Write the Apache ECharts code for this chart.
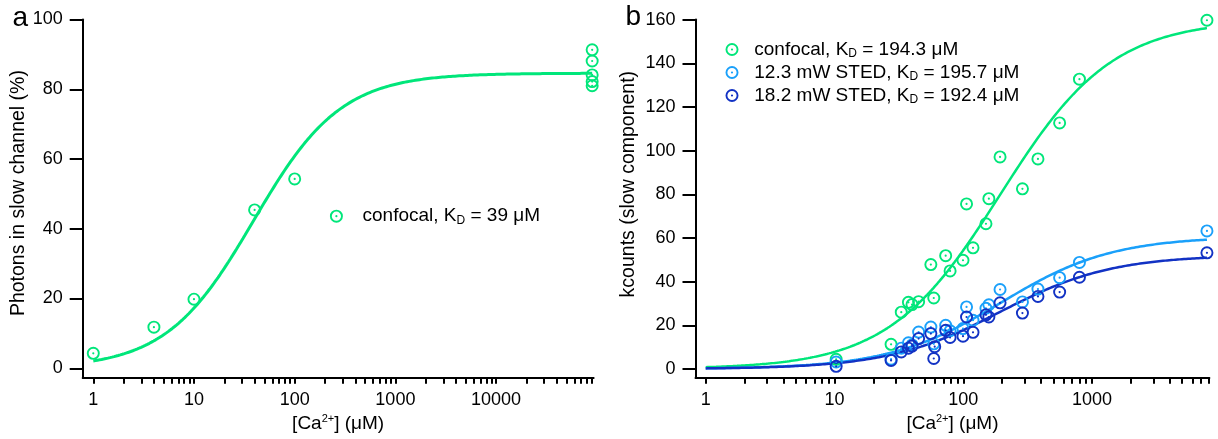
<!DOCTYPE html>
<html>
<head>
<meta charset="utf-8">
<script src="https://cdn.jsdelivr.net/npm/echarts@6/dist/echarts.min.js"></script>
<style>
  html, body { margin: 0; padding: 0; background: #fff; }
  #chart { width: 1218px; height: 439px; }
</style>
</head>
<body>
<div id="chart"></div>
<script>
// ---- panel a: fraction of photons in the slow channel ----
const CONC_A = [1, 4, 10, 40, 100, 90000, 90000, 90000, 90000, 90000];
const SLOW_A = [4.3, 11.8, 19.8, 45.4, 54.3, 91.3, 88.1, 84.1, 82.2, 81.0];
const KD_A = 39;
const BMAX_A = 84.6;

// ---- panel b: slow-component counts ----
const CONC_B = [10.3, 27.5, 33, 37.5, 40, 45, 56, 59, 73, 79, 99.5, 106, 119, 150, 158, 193, 288, 380, 560, 798, 7800];
const CONFOCAL_B = [4.4, 11.3, 26, 30.5, 29.5, 30.8, 47.8, 32.5, 51.9, 44.9, 49.8, 75.6, 55.5, 66.5, 78, 97.1, 82.5, 96.2, 112.7, 132.7, 159.7];
const STED12_B = [3.2, 4.5, 9.5, 12, 11, 16.9, 19.2, 11.5, 20, 17.5, 18.5, 28.4, 22.3, 27.8, 29.4, 36.4, 30.7, 36.6, 41.8, 48.8, 63.2];
const CONC_B18 = [10.3, 27.5, 33, 37.5, 40, 45, 56, 59, 60, 73, 79, 99.5, 106, 119, 150, 158, 193, 288, 380, 560, 798, 7800];
const STED18_B = [1.2, 3.9, 7.8, 9.5, 10.5, 13.9, 16.2, 4.8, 10.2, 17.7, 14.4, 15, 23.8, 16.8, 24.8, 23.8, 30.3, 25.6, 33.2, 35.2, 42, 53.2];
const KD_B = [194.3, 195.7, 192.4];
const BMAX_B = [160, 60.7, 52.2];

// ---- axis ticks ----
const DECADES_A = [1, 10, 100, 1000, 10000];
const DECADES_B = [1, 10, 100, 1000];
const Y_TICKS_A = [0, 20, 40, 60, 80, 100];
const Y_TICKS_B = [0, 20, 40, 60, 80, 100, 120, 140, 160];

// ---- legend texts ----
const LEGEND_A = [['confocal', 'confocal, K', ' = 39 μM']];
const LEGEND_B = [
  ['confocal ', 'confocal, K', ' = 194.3 μM'],
  ['12.3 mW STED', '12.3 mW STED, K', ' = 195.7 μM'],
  ['18.2 mW STED', '18.2 mW STED, K', ' = 192.4 μM']
];

const GREEN = '#00e67a';
const LIGHT = '#1aa0fa';
const DARK = '#1232c4';
const FONT = '"Liberation Sans", Arial, sans-serif';

// open ring with a centre dot
const RING = 'path://M0,-6.5A6.5,6.5,0,1,1,0,6.5A6.5,6.5,0,1,1,0,-6.5Z' +
             'M0,-4.6A4.6,4.6,0,1,0,0,4.6A4.6,4.6,0,1,0,0,-4.6Z' +
             'M0,-1.1A1.1,1.1,0,1,1,0,1.1A1.1,1.1,0,1,1,0,-1.1Z';

function zip(xs, ys) { return xs.map((x, i) => [x, ys[i]]); }

// one-site binding fit  y = Bmax * x / (KD + x), sampled on a log grid
function bindingCurve(kd, bmax, xFrom, xTo, n) {
  const a = Math.log10(xFrom), b = Math.log10(xTo), pts = [];
  for (let i = 0; i <= n; i++) {
    const x = Math.pow(10, a + (b - a) * i / n);
    pts.push([x, bmax * x / (kd + x)]);
  }
  return pts;
}

// decade marks plus 2..9 minor marks inside each decade up to the limit
function logTicks(decades, limit) {
  const t = [];
  decades.forEach(d => { for (let k = 1; k <= 9; k++) { if (k * d <= limit) t.push(k * d); } });
  return t;
}

const axisLineStyle = { color: '#000', width: 2 };
const tickLineStyle = { color: '#000', width: 2 };
const labelBase = { color: '#000', fontSize: 18, fontFamily: FONT };

function xAxisLog(gridIndex, min, max, decades) {
  return {
    type: 'log', logBase: 10, gridIndex, min, max,
    axisLine: { show: true, onZero: false, lineStyle: axisLineStyle },
    axisTick: { show: true, customValues: logTicks(decades, max), length: 6, lineStyle: tickLineStyle },
    axisLabel: Object.assign({ customValues: decades, margin: 13, formatter: v => String(Math.round(v)) }, labelBase),
    splitLine: { show: false },
    minorTick: { show: false },
    name: '{n|[Ca}{s|2+}{n|] (μM)}',
    nameLocation: 'middle', nameGap: 33,
    nameTextStyle: {
      rich: {
        n: { fontSize: 19, fontFamily: FONT, color: '#000', lineHeight: 21 },
        s: { fontSize: 11, fontFamily: FONT, color: '#000', lineHeight: 11, verticalAlign: 'top' }
      }
    }
  };
}

function yAxisLin(gridIndex, min, max, ticks, name, gap, shift) {
  return {
    type: 'value', gridIndex, min, max,
    axisLine: { show: true, onZero: false, lineStyle: axisLineStyle },
    axisTick: { show: true, customValues: ticks, length: 13, lineStyle: tickLineStyle },
    axisLabel: Object.assign({ customValues: ticks, margin: 20 }, labelBase),
    splitLine: { show: false },
    name, nameLocation: 'middle', nameGap: gap,
    nameTextStyle: { color: '#000', fontSize: 19.5, fontFamily: FONT, padding: [0, 0, 0, shift] }
  };
}

function legendRich(pad) {
  return {
    t: { fontSize: 19, fontFamily: FONT, color: '#000', lineHeight: 20, padding: [0, 0, 0, pad] },
    k: { fontSize: 19, fontFamily: FONT, color: '#000', lineHeight: 20 },
    d: { fontSize: 12, fontFamily: FONT, color: '#000', lineHeight: 11, verticalAlign: 'bottom' }
  };
}

function legendFormatter(table) {
  return name => {
    const row = table.find(r => r[0] === name);
    return '{t|' + row[1] + '}{d|D}{k|' + row[2] + '}';
  };
}

function fitLine(name, xi, yi, data, color, width) {
  return {
    name, type: 'line', xAxisIndex: xi, yAxisIndex: yi, data,
    showSymbol: false, symbol: 'none', smooth: false, silent: true,
    lineStyle: { color, width }, z: 2
  };
}

function points(name, xi, yi, data, color) {
  return {
    name, type: 'scatter', xAxisIndex: xi, yAxisIndex: yi, data,
    symbol: RING, symbolSize: 13, symbolKeepAspect: true,
    itemStyle: { color, opacity: 1 }, z: 3
  };
}

const chart = echarts.init(document.getElementById('chart'), null, { renderer: 'canvas' });

chart.setOption({
  animation: false,
  backgroundColor: '#fff',
  grid: [
    { left: 82.7, top: 19.5, width: 510.9, height: 358.2 },
    { left: 695.5, top: 19.6, width: 513.9, height: 358.1 }
  ],
  xAxis: [
    xAxisLog(0, 0.785, 93000, DECADES_A),
    xAxisLog(1, 0.833, 8150, DECADES_B)
  ],
  yAxis: [
    yAxisLin(0, -2.7, 100, Y_TICKS_A, 'Photons in slow channel (%)', 53, 11),
    yAxisLin(1, -4, 160, Y_TICKS_B, 'kcounts (slow component)', 57, 29)
  ],
  legend: [
    {
      data: LEGEND_A.map(r => r[0]), orient: 'vertical', left: 329.9, top: 206.7, padding: 0,
      itemWidth: 13, itemHeight: 13, itemGap: 3.5, selectedMode: false,
      formatter: legendFormatter(LEGEND_A), textStyle: { rich: legendRich(14.6) }
    },
    {
      data: LEGEND_B.map(r => r[0]), orient: 'vertical', left: 725.5, top: 40, padding: 0,
      itemWidth: 13, itemHeight: 13, itemGap: 3.5, selectedMode: false,
      formatter: legendFormatter(LEGEND_B), textStyle: { rich: legendRich(10.8) }
    }
  ],
  graphic: [
    { type: 'text', left: 12.5, top: 4, style: { text: 'a', font: '28px ' + FONT, fill: '#000' } },
    { type: 'text', left: 625.5, top: 3, style: { text: 'b', font: '28px ' + FONT, fill: '#000' } }
  ],
  series: [
    fitLine('fit a', 0, 0, bindingCurve(KD_A, BMAX_A, 1, 90000, 240), GREEN, 3),
    points('confocal', 0, 0, zip(CONC_A, SLOW_A), GREEN),

    fitLine('fit confocal', 1, 1, bindingCurve(KD_B[0], BMAX_B[0], 1, 7800, 240), GREEN, 2.5),
    fitLine('fit 12.3', 1, 1, bindingCurve(KD_B[1], BMAX_B[1], 1, 7800, 240), LIGHT, 2.5),
    fitLine('fit 18.2', 1, 1, bindingCurve(KD_B[2], BMAX_B[2], 1, 7800, 240), DARK, 2.5),
    points('confocal ', 1, 1, zip(CONC_B, CONFOCAL_B), GREEN),
    points('12.3 mW STED', 1, 1, zip(CONC_B, STED12_B), LIGHT),
    points('18.2 mW STED', 1, 1, zip(CONC_B18, STED18_B), DARK)
  ]
});
</script>
</body>
</html>
